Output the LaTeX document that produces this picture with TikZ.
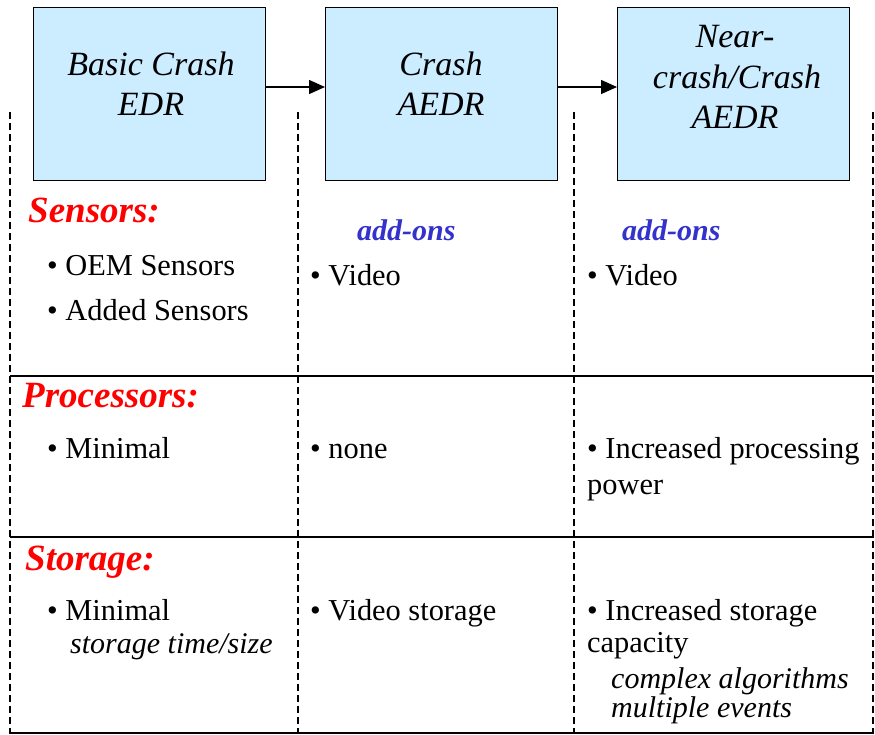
\documentclass[tikz,border=0pt]{standalone}
\usepackage{fontspec}
\setmainfont{Liberation Serif}
\usetikzlibrary{arrows.meta}
\definecolor{boxfill}{RGB}{204,236,255}
\definecolor{headred}{RGB}{255,0,0}
\definecolor{addblue}{RGB}{51,51,204}
\tikzset{
  stagebox/.style={draw=black, line width=1.3pt, fill=boxfill, minimum width=232pt, minimum height=173pt, inner sep=0pt, anchor=north west},
  stagetext/.style={anchor=base, inner sep=0pt, font=\fontsize{34}{40}\selectfont\itshape},
  flow/.style={line width=1.4pt, -{Triangle[length=16pt,width=14pt]}},
  divider/.style={line width=1.3pt, dash pattern=on 7pt off 4pt},
  rule/.style={line width=1.5pt},
  heading/.style={anchor=base west, inner sep=0pt, text=headred, font=\fontsize{37}{40}\selectfont\bfseries\itshape},
  addon/.style={anchor=base west, inner sep=0pt, text=addblue, font=\fontsize{30}{36}\selectfont\bfseries\itshape},
  item/.style={anchor=base west, inner sep=0pt, font=\fontsize{30.4}{36}\selectfont},
  note/.style={anchor=base west, inner sep=0pt, font=\fontsize{30}{36}\selectfont\itshape}
}
\begin{document}
\begin{tikzpicture}[x=1pt, y=-1pt]
\useasboundingbox (0,0) rectangle (875,734);

% stage boxes
\node[stagebox] (b1) at (33,7) {};
\node[stagebox] (b2) at (325,7) {};
\node[stagebox] (b3) at (617,7) {};

\node[stagetext] (t1a) at (151,75) {Basic Crash};
\node[stagetext] (t1b) at (151,115) {EDR};
\node[stagetext] (t2a) at (441,75) {Crash};
\node[stagetext] (t2b) at (441,115) {AEDR};
\node[stagetext] (t3a) at (735,47) {Near-};
\node[stagetext] (t3b) at (737,88) {crash/Crash};
\node[stagetext] (t3c) at (735,128) {AEDR};

% flow between the stages, at the height of the connector level
\coordinate (lvl) at (0,87);
\draw[flow] (b1.east |- lvl) -- (b2.west |- lvl);
\draw[flow] (b2.east |- lvl) -- (b3.west |- lvl);

% table grid
\coordinate (c0t) at (10,112);  \coordinate (c0b) at (10,734);
\coordinate (c1t) at (298,112); \coordinate (c1b) at (298,734);
\coordinate (c2t) at (574,112); \coordinate (c2b) at (574,734);
\coordinate (c3t) at (873,112); \coordinate (c3b) at (873,734);
\draw[divider] (c0t) -- (c0b);
\draw[divider] (c1t) -- (c1b);
\draw[divider] (c2t) -- (c2b);
\draw[divider] (c3t) -- (c3b);

\coordinate (r1l) at (10,376); \coordinate (r1r) at (873.7,376);
\coordinate (r2l) at (10,537); \coordinate (r2r) at (873.7,537);
\coordinate (r3l) at (10,733); \coordinate (r3r) at (873.7,733);
\draw[rule] (r1l) -- (r1r);
\draw[rule] (r2l) -- (r2r);
\draw[rule] (r3l) -- (r3r);

% sensors row
\node[heading] (hs) at (28,222) {Sensors:};
\node[item] (s1) at (47,275) {• OEM Sensors};
\node[item] (s2) at (47,320) {• Added Sensors};
\node[addon] (a2) at (357,240) {add-ons};
\node[addon] (a3) at (622,240) {add-ons};
\node[item] (v2) at (310,285) {• Video};
\node[item] (v3) at (587,285) {• Video};

% processors row
\node[heading] (hp) at (22,407) {Processors:};
\node[item] (p1) at (47,458) {• Minimal};
\node[item] (p2) at (310,458) {• none};
\node[item] (p3) at (587,458) {• Increased processing};
\node[item] (p3b) at (587,494) {power};

% storage row
\node[heading] (hst) at (25,570) {Storage:};
\node[item] (m1) at (47,620) {• Minimal};
\node[note] (m1b) at (70,653) {storage time/size};
\node[item] (m2) at (310,620) {• Video storage};
\node[item] (m3) at (587,620) {• Increased storage};
\node[item] (m3b) at (587,652) {capacity};
\node[note] (m3c) at (611,688) {complex algorithms};
\node[note] (m3d) at (611,717) {multiple events};
\end{tikzpicture}
\end{document}
